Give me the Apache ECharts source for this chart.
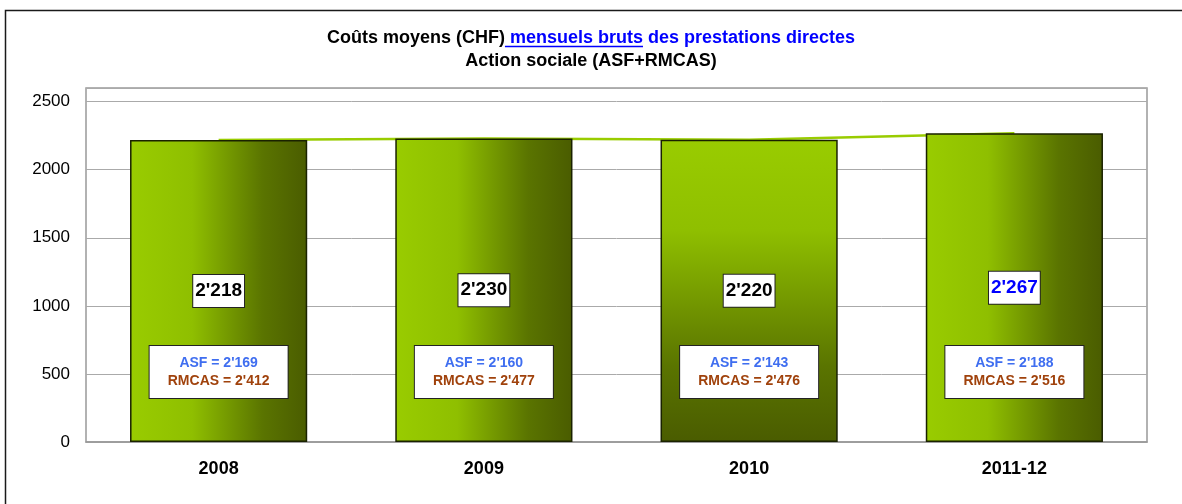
<!DOCTYPE html>
<html>
<head>
<meta charset="utf-8">
<script src="https://cdn.jsdelivr.net/npm/echarts@6/dist/echarts.min.js"></script>
<style>
html,body{margin:0;padding:0;background:#fff;}
#chart{width:1182px;height:504px;}
</style>
</head>
<body>
<div id="chart"></div>
<script>
// donnees
var annees = ['2008', '2009', '2010', '2011-12'];
var coutTotal = [2218, 2230, 2220, 2267];
var coutASF = [2169, 2160, 2143, 2188];
var coutRMCAS = [2412, 2477, 2476, 2516];
var yTicks = [0, 500, 1000, 1500, 2000, 2500];

var titre1a = 'Coûts moyens (CHF)';
var titre1b = ' mensuels bruts';
var titre1c = ' des prestations directes';
var titre2 = 'Action sociale (ASF+RMCAS)';

function fmt(v) {
    var s = String(v);
    return s.length > 3 ? s.slice(0, s.length - 3) + "'" + s.slice(-3) : s;
}

// largeur des morceaux du titre pour placer le soulignement
var ctx = document.createElement('canvas').getContext('2d');
ctx.font = 'bold 18px "Liberation Sans"';
var wa = ctx.measureText(titre1a).width;
var wb = ctx.measureText(titre1b).width;
var wc = ctx.measureText(titre1c).width;
var x0 = 1182 / 2 - (wa + wb + wc) / 2;

var gradH = new echarts.graphic.LinearGradient(0, 0, 1, 0, [
    {offset: 0, color: '#99cc00'},
    {offset: 0.35, color: '#8fbf00'},
    {offset: 0.75, color: '#5a7400'},
    {offset: 1, color: '#4a5c00'}
]);
var gradV = new echarts.graphic.LinearGradient(0, 0, 0, 1, [
    {offset: 0, color: '#99cc00'},
    {offset: 0.3, color: '#8fbf00'},
    {offset: 0.75, color: '#5a7400'},
    {offset: 1, color: '#4a5c00'}
]);

var barData = coutTotal.map(function (v, i) {
    return {
        value: v,
        itemStyle: {color: i == 2 ? gradV : gradH},
        label: {color: i == 3 ? '#0000ff' : '#000'}
    };
});

var myChart = echarts.init(document.getElementById('chart'));
var option = {
    animation: false,
    title: {
        left: 'center',
        top: 22,
        text: '{a|' + titre1a + '}{b|' + titre1b + '}{b|' + titre1c + '}\n{a|' + titre2 + '}',
        textStyle: {
            rich: {
                a: {fontFamily: 'Liberation Sans', fontWeight: 'bold', fontSize: 18, color: '#000', lineHeight: 23},
                b: {fontFamily: 'Liberation Sans', fontWeight: 'bold', fontSize: 18, color: '#0000ff', lineHeight: 23}
            }
        }
    },
    graphic: [
        {   // cadre exterieur
            type: 'rect', silent: true, z: -1,
            shape: {x: 5.5, y: 10.5, width: 1300, height: 700},
            style: {fill: 'none', stroke: '#1a1a1a', lineWidth: 1.5}
        },
        {   // soulignement de "mensuels bruts"
            type: 'line', silent: true,
            shape: {x1: x0 + wa, y1: 46.5, x2: x0 + wa + wb, y2: 46.5},
            style: {stroke: '#0000ff', lineWidth: 1.3}
        }
    ],
    grid: {
        left: 86, right: 35, top: 88, bottom: 62,
        show: true, borderColor: '#999', borderWidth: 1.5,
        containLabel: false
    },
    xAxis: {
        type: 'category',
        data: annees,
        axisLine: {show: true, lineStyle: {color: '#999', width: 1.5}},
        axisTick: {show: false},
        axisLabel: {
            margin: 18, fontFamily: 'Liberation Sans', fontWeight: 'bold',
            fontSize: 18, color: '#000'
        }
    },
    yAxis: {
        type: 'value',
        min: 0, max: 2600, interval: 500,
        axisLine: {show: false},
        axisTick: {show: false},
        axisLabel: {
            margin: 16, fontFamily: 'Liberation Sans', fontSize: 17, color: '#000',
            showMaxLabel: false,
            formatter: function (v) { return yTicks.indexOf(v) >= 0 ? v : ''; }
        },
        splitLine: {lineStyle: {color: '#aaa', width: 1}}
    },
    series: [
        {
            name: 'tendance',
            type: 'line',
            data: coutTotal,
            z: 1,
            symbol: 'none',
            lineStyle: {color: '#99cc00', width: 2.5}
        },
        {
            name: 'total',
            type: 'bar',
            data: barData,
            z: 2,
            barWidth: '66.8%',
            itemStyle: {borderColor: '#1a2200', borderWidth: 1.5},
            label: {
                show: true,
                position: 'inside',
                formatter: function (p) { return fmt(p.value); },
                fontFamily: 'Liberation Sans', fontWeight: 'bold', fontSize: 19,
                backgroundColor: '#fff', borderColor: '#222', borderWidth: 1,
                padding: [7, 2, 6, 2]
            }
        },
        {
            name: 'detail',
            type: 'bar',
            data: coutTotal,
            z: 3,
            barWidth: '66.8%',
            barGap: '-100%',
            silent: true,
            itemStyle: {color: 'rgba(0,0,0,0)'},
            label: {
                show: true,
                position: 'insideBottom',
                distance: 44,
                formatter: function (p) {
                    return '{asf|ASF = ' + fmt(coutASF[p.dataIndex]) + '}\n{rm|RMCAS = ' + fmt(coutRMCAS[p.dataIndex]) + '}';
                },
                backgroundColor: '#fff', borderColor: '#222', borderWidth: 1,
                width: 126, align: 'center',
                padding: [8, 6, 8, 6],
                rich: {
                    asf: {fontFamily: 'Liberation Sans', fontWeight: 'bold', fontSize: 14, color: '#3f6ef0', lineHeight: 18, width: 126, align: 'center'},
                    rm: {fontFamily: 'Liberation Sans', fontWeight: 'bold', fontSize: 14, color: '#a0420c', lineHeight: 18, width: 126, align: 'center'}
                }
            }
        }
    ]
};
myChart.setOption(option);
</script>
</body>
</html>
